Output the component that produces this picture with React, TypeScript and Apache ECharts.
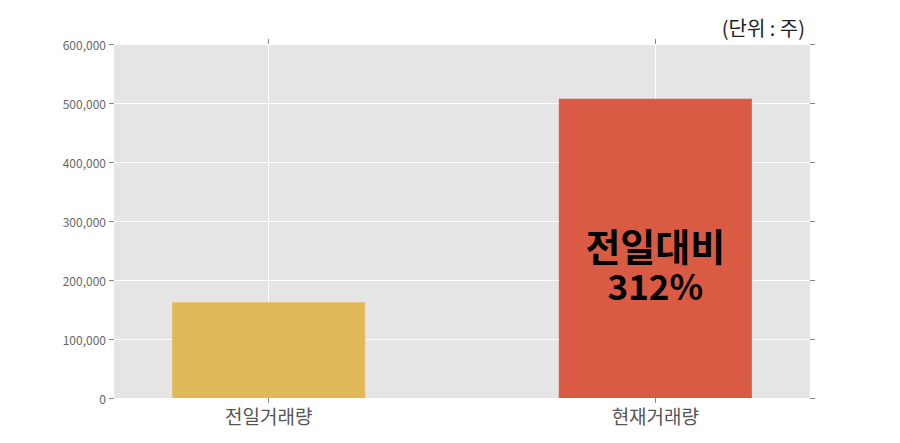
import React, { useEffect, useRef } from "react";
import * as echarts from "echarts";

const categories = ["전일거래량", "현재거래량"];
const volumes = [162500, 507000];
const barColors = ["#E0B958", "#D95B43"];
const yTicks = { min: 0, max: 600000, interval: 100000 };
const ratioTitle = "전일대비";
const ratioValue = "312%";
const unitLabel = "(단위 : 주)";

const FONT = "'Noto Sans CJK KR', 'Noto Sans', sans-serif";

export default function App() {
  const ref = useRef<HTMLDivElement>(null);
  useEffect(() => {
    if (!ref.current) return;
    const chart = echarts.init(ref.current, null, { renderer: "svg" });
    const positions = categories.map((_, i) => i);
    const tickStyle = { show: true, length: 5, inside: false, lineStyle: { color: "#888", width: 1 } };
    chart.setOption({
      animation: false,
      textStyle: { fontFamily: FONT },
      grid: {
        left: 114,
        right: 90,
        top: 44,
        bottom: 45,
        show: true,
        backgroundColor: "#E5E5E5",
        borderWidth: 0,
      },
      xAxis: [
        {
          type: "value",
          min: -0.4,
          max: 1.4,
          position: "bottom",
          axisLine: { show: false, onZero: false },
          axisTick: { ...tickStyle, customValues: positions },
          axisLabel: {
            customValues: positions,
            formatter: (v: number) => categories[Math.round(v)] ?? "",
            fontSize: 19,
            color: "#555",
            margin: 8,
            fontFamily: FONT,
          },
          splitLine: { show: false },
        },
        {
          type: "value",
          min: -0.4,
          max: 1.4,
          position: "top",
          axisLine: { show: false, onZero: false },
          axisTick: { ...tickStyle, customValues: positions },
          axisLabel: { show: false },
          splitLine: { show: false },
        },
      ],
      yAxis: [
        {
          type: "value",
          min: yTicks.min,
          max: yTicks.max,
          interval: yTicks.interval,
          position: "left",
          axisLine: { show: false, onZero: false },
          axisTick: tickStyle,
          axisLabel: {
            fontSize: 12,
            color: "#666",
            margin: 8,
            fontFamily: FONT,
            formatter: (v: number) => v.toLocaleString("en-US"),
          },
          splitLine: { show: true, lineStyle: { color: "#FFFFFF", width: 1 } },
        },
        {
          type: "value",
          min: yTicks.min,
          max: yTicks.max,
          interval: yTicks.interval,
          position: "right",
          axisLine: { show: false, onZero: false },
          axisTick: tickStyle,
          axisLabel: { show: false },
          splitLine: { show: false },
        },
      ],
      graphic: [
        {
          type: "text",
          right: 95,
          top: 17,
          style: { text: unitLabel, fontSize: 20, fill: "#222", fontFamily: FONT },
        },
      ],
      series: [
        {
          type: "line",
          data: [],
          z: 1,
          silent: true,
          markLine: {
            z: 1,
            silent: true,
            symbol: "none",
            label: { show: false },
            lineStyle: { color: "#FFFFFF", width: 1, type: "solid" },
            data: positions.map((p) => ({ xAxis: p })),
          },
        },
        {
          type: "bar",
          z: 5,
          barWidth: 193,
          data: volumes.map((v, i) => ({
            value: [i, v],
            itemStyle: { color: barColors[i] },
            label:
              i === 1
                ? {
                    show: true,
                    position: "inside",
                    offset: [0, 16],
                    formatter: `{a|${ratioTitle}}\n{b|${ratioValue}}`,
                    rich: {
                      a: { fontSize: 38, fontWeight: "bold", lineHeight: 40, color: "#000", fontFamily: FONT },
                      b: { fontSize: 35, fontWeight: "bold", lineHeight: 40, color: "#000", fontFamily: FONT },
                    },
                  }
                : { show: false },
          })),
        },
      ],
    });
    return () => chart.dispose();
  }, []);
  return <div ref={ref} style={{ width: 900, height: 443, margin: -8 }} />;
}
